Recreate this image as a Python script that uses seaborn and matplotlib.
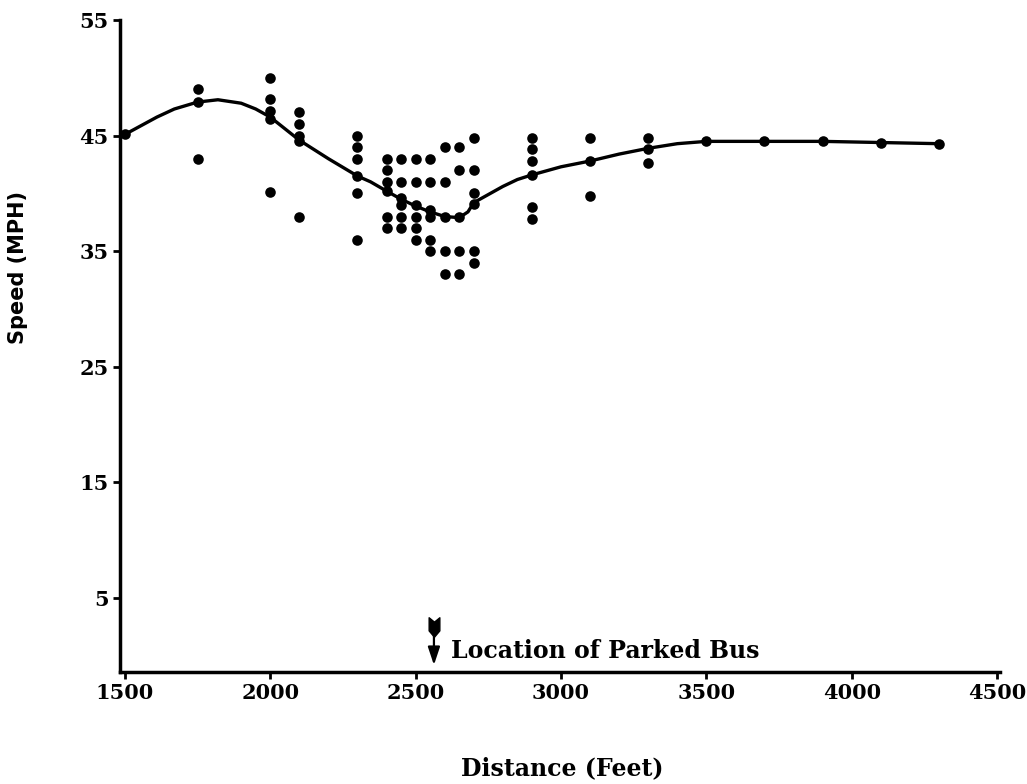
import matplotlib
matplotlib.use("Agg")
import matplotlib.pyplot as plt
import seaborn as sns
from matplotlib.path import Path

# ---- data ----
dist = [1500,
        1750, 1750, 1750,
        2000, 2000, 2000, 2000, 2000,
        2100, 2100, 2100, 2100, 2100,
        2300, 2300, 2300, 2300, 2300, 2300,
        2400, 2400, 2400, 2400, 2400, 2400,
        2450, 2450, 2450, 2450, 2450, 2450,
        2500, 2500, 2500, 2500, 2500, 2500,
        2550, 2550, 2550, 2550, 2550, 2550,
        2600, 2600, 2600, 2600, 2600,
        2650, 2650, 2650, 2650, 2650,
        2700, 2700, 2700, 2700, 2700, 2700,
        2900, 2900, 2900, 2900, 2900, 2900,
        3100, 3100, 3100,
        3300, 3300, 3300,
        3500, 3700, 3900, 4100, 4300]
speed = [45.1,
         49.0, 47.9, 43.0,
         50.0, 48.2, 47.1, 46.4, 40.1,
         47.0, 46.0, 45.0, 44.5, 38.0,
         45.0, 44.0, 43.0, 41.5, 40.0, 36.0,
         43.0, 42.0, 41.0, 40.2, 38.0, 37.0,
         43.0, 41.0, 39.6, 39.0, 38.0, 37.0,
         43.0, 41.0, 39.0, 38.0, 37.0, 36.0,
         43.0, 41.0, 38.6, 38.0, 36.0, 35.0,
         44.0, 41.0, 38.0, 35.0, 33.0,
         44.0, 42.0, 38.0, 35.0, 33.0,
         44.8, 42.0, 40.0, 39.1, 35.0, 34.0,
         44.8, 43.8, 42.8, 41.6, 38.8, 37.8,
         44.8, 42.8, 39.8,
         44.8, 43.8, 42.6,
         44.5, 44.5, 44.5, 44.4, 44.3]

curve_x = [1500, 1610, 1670, 1750, 1820, 1900, 1950, 2000, 2100, 2200, 2300,
           2345, 2400, 2450, 2500, 2550, 2600, 2650, 2680, 2700, 2750, 2800,
           2850, 2900, 3000, 3100, 3200, 3300, 3400, 3500, 3700, 3900, 4100, 4300]
curve_y = [45.1, 46.6, 47.3, 47.9, 48.1, 47.8, 47.3, 46.6, 44.6, 43.0, 41.5,
           41.0, 40.2, 39.5, 38.9, 38.4, 38.0, 37.9, 38.4, 39.2, 39.9, 40.6,
           41.2, 41.6, 42.3, 42.8, 43.4, 43.9, 44.3, 44.5, 44.5, 44.5, 44.4, 44.3]

x_ticks = [1500, 2000, 2500, 3000, 3500, 4000, 4500]
y_ticks = [5, 15, 25, 35, 45, 55]
bus_location = 2563
bus_label = "Location of Parked Bus"

# ---- figure ----
sns.set_theme(style="ticks")
plt.rcParams['font.family'] = ['DejaVu Serif']
for k in ['text.color', 'axes.labelcolor', 'xtick.color', 'ytick.color',
          'axes.edgecolor']:
    plt.rcParams[k] = 'black'

fig = plt.figure(figsize=(10.27, 7.84), dpi=100)
ax = fig.add_axes([0.1168, 0.1429, 0.8569, 0.8316])

sns.lineplot(x=curve_x, y=curve_y, color='black', linewidth=2.4,
             sort=False, estimator=None, ax=ax)
sns.scatterplot(x=dist, y=speed, s=58, color='black', edgecolor='black',
                linewidth=0, ax=ax, zorder=3)

ax.set_xlim(1483, 4510)
ax.set_ylim(-1.4, 55)
ax.set_xticks(x_ticks)
ax.set_yticks(y_ticks)
for s in ['top', 'right']:
    ax.spines[s].set_visible(False)
for s in ['left', 'bottom']:
    ax.spines[s].set_linewidth(2.5)
    ax.spines[s].set_color('black')
ax.tick_params(direction='out', length=5, width=2, labelsize=15, pad=3,
               colors='black')
for lab in ax.get_xticklabels() + ax.get_yticklabels():
    lab.set_fontweight('bold')
ax.set_xlabel('')
ax.set_ylabel('')

fig.text(18 / 1027, 1 - 267 / 784, 'Speed (MPH)', rotation=90,
         ha='center', va='center', fontsize=15, fontweight='bold',
         family=['DejaVu Sans'], color='black')
fig.text(562 / 1027, 1 - 768 / 784, 'Distance (Feet)', ha='center',
         va='center', fontsize=17, fontweight='bold', color='black')

# bus location arrow
ax.annotate('', xy=(bus_location, -0.8), xytext=(bus_location, 2.0),
            arrowprops=dict(arrowstyle='-|>,head_length=0.9,head_width=0.3',
                            lw=1.6, color='black', shrinkA=0, shrinkB=0))
fletch = Path([(-0.55, 1.0), (0, 0.55), (0.55, 1.0), (0.55, -0.35),
               (0, -1.0), (-0.55, -0.35), (-0.55, 1.0)],
              [Path.MOVETO] + [Path.LINETO] * 5 + [Path.CLOSEPOLY])
ax.plot([bus_location], [2.5], marker=fletch, markersize=14, color='black',
        linestyle='none')
ax.annotate(bus_label, xy=(bus_location, 0.4), xytext=(12, 0),
            textcoords='offset points', ha='left', va='center',
            fontsize=17, fontweight='bold', color='black')

fig.savefig('out.png', dpi=100, facecolor='white')
